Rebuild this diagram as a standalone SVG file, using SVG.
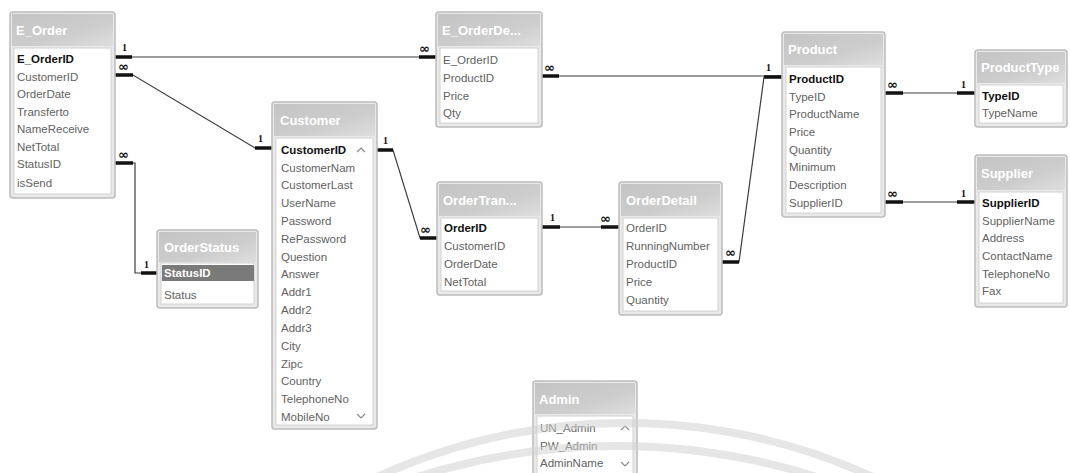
<svg xmlns="http://www.w3.org/2000/svg" width="1070" height="473" viewBox="0 0 1070 473">
<defs>
<linearGradient id="tg" x1="0" y1="0" x2="1" y2="1">
<stop offset="0" stop-color="#c4c4c4"/>
<stop offset="0.6" stop-color="#cdcdcd"/>
<stop offset="1" stop-color="#dedede"/>
</linearGradient>
<style>
.box{fill:#e9e9e9;stroke:#bcbcbc;stroke-width:1.5}
.title{fill:url(#tg)}
.body{fill:#fff;stroke:#d2d2d2;stroke-width:1}
.tt{font-family:"Liberation Sans",Arial,sans-serif;font-size:13px;font-weight:bold;fill:#ffffff}
.f{font-family:"Liberation Sans",Arial,sans-serif;font-size:11.5px;fill:#626262}
.k{font-weight:bold;fill:#111}
.c{fill:none;stroke:#3c3c3c;stroke-width:1.2}
.s{fill:none;stroke:#111;stroke-width:3.5}
.l1{font-family:"Liberation Serif",serif;font-size:10px;font-weight:bold;fill:#111}
.li{font-family:"DejaVu Sans",sans-serif;font-size:13px;font-weight:bold;fill:#111}
.ar{fill:none;stroke:#8a8a8a;stroke-width:1.2}
.wm{fill:none;stroke:#d2d2d2;stroke-width:8;opacity:0.55}
</style>
</defs>
<rect width="1070" height="473" fill="#ffffff"/>

<g id="connectors">
<path class="c" d="M115,57 H436"/>
<path class="s" d="M115,57 H132 M419,57 H436"/>
<text class="l1" x="122" y="51">1</text>
<text class="li" x="419" y="53">∞</text>

<path class="c" d="M115,75 H133 L255,148 H272"/>
<path class="s" d="M115,75 H133 M255,148 H272"/>
<text class="li" x="118" y="71">∞</text>
<text class="l1" x="258" y="142">1</text>

<path class="c" d="M115,163 H135 V273 H158"/>
<path class="s" d="M115,163 H133 M141,273 H158"/>
<text class="li" x="118" y="159">∞</text>
<text class="l1" x="144" y="268">1</text>

<path class="c" d="M377,150 H393 L420,238 H437"/>
<path class="s" d="M377,150 H393 M420,238 H437"/>
<text class="l1" x="383" y="144">1</text>
<text class="li" x="420" y="234">∞</text>

<path class="c" d="M542,227 H619"/>
<path class="s" d="M542,227 H560 M601,227 H619"/>
<text class="l1" x="550" y="221">1</text>
<text class="li" x="600" y="223">∞</text>

<path class="c" d="M542,76 H782"/>
<path class="s" d="M542,76 H559 M764,77 H782"/>
<text class="li" x="544" y="72">∞</text>
<text class="l1" x="766" y="71">1</text>

<path class="c" d="M722,262 H739 L764,77"/>
<path class="s" d="M722,262 H739"/>
<text class="li" x="725" y="257">∞</text>

<path class="c" d="M885,93 H975"/>
<path class="s" d="M885,93 H903 M957,93 H975"/>
<text class="li" x="887" y="89">∞</text>
<text class="l1" x="961" y="88">1</text>

<path class="c" d="M885,202 H975"/>
<path class="s" d="M885,202 H903 M957,202 H975"/>
<text class="li" x="887" y="198">∞</text>
<text class="l1" x="961" y="197">1</text>
</g>

<g id="E_Order">
<rect class="box" x="10" y="12" width="105" height="186" rx="3"/>
<rect class="title" x="12" y="14" width="101" height="32"/>
<rect class="body" x="14" y="48" width="97" height="146"/>
<text class="tt" x="16" y="35">E_Order</text>
<text class="f k" x="17" y="63">E_OrderID</text>
<text class="f" x="17" y="81">CustomerID</text>
<text class="f" x="17" y="98">OrderDate</text>
<text class="f" x="17" y="116">Transferto</text>
<text class="f" x="17" y="133">NameReceive</text>
<text class="f" x="17" y="151">NetTotal</text>
<text class="f" x="17" y="168">StatusID</text>
<text class="f" x="17" y="187">isSend</text>
</g>

<g id="E_OrderDetail">
<rect class="box" x="436" y="12" width="106" height="115" rx="3"/>
<rect class="title" x="438" y="14" width="102" height="32"/>
<rect class="body" x="440" y="48" width="98" height="75"/>
<text class="tt" x="442" y="35">E_OrderDe...</text>
<text class="f" x="443" y="64">E_OrderID</text>
<text class="f" x="443" y="82">ProductID</text>
<text class="f" x="443" y="100">Price</text>
<text class="f" x="443" y="117">Qty</text>
</g>

<g id="Customer">
<rect class="box" x="272" y="102" width="105" height="327" rx="3"/>
<rect class="title" x="274" y="104" width="101" height="32"/>
<rect class="body" x="276" y="138" width="97" height="287"/>
<text class="tt" x="280" y="125">Customer</text>
<text class="f k" x="281" y="154">CustomerID</text>
<text class="f" x="281" y="171.5">CustomerNam</text>
<text class="f" x="281" y="189">CustomerLast</text>
<text class="f" x="281" y="207">UserName</text>
<text class="f" x="281" y="225">Password</text>
<text class="f" x="281" y="243">RePassword</text>
<text class="f" x="281" y="261">Question</text>
<text class="f" x="281" y="278">Answer</text>
<text class="f" x="281" y="296">Addr1</text>
<text class="f" x="281" y="314">Addr2</text>
<text class="f" x="281" y="332">Addr3</text>
<text class="f" x="281" y="350">City</text>
<text class="f" x="281" y="368">Zipc</text>
<text class="f" x="281" y="385">Country</text>
<text class="f" x="281" y="403">TelephoneNo</text>
<text class="f" x="281" y="421">MobileNo</text>
<polyline class="ar" points="357,152 361,148 365,152"/>
<polyline class="ar" points="357,414 361,418 365,414"/>
</g>

<g id="OrderStatus">
<rect class="box" x="157" y="230" width="101" height="78" rx="3"/>
<rect class="title" x="159" y="232" width="97" height="30"/>
<rect class="body" x="161" y="263" width="93" height="41"/>
<rect x="162" y="265" width="92" height="16" fill="#7a7a7a"/>
<text class="tt" x="164" y="252">OrderStatus</text>
<text class="f" x="164" y="277" style="fill:#fff;font-weight:bold">StatusID</text>
<text class="f" x="164" y="299">Status</text>
</g>

<g id="OrderTransaction">
<rect class="box" x="437" y="182" width="105" height="113" rx="3"/>
<rect class="title" x="439" y="184" width="101" height="32"/>
<rect class="body" x="441" y="218" width="97" height="73"/>
<text class="tt" x="443" y="205">OrderTran...</text>
<text class="f k" x="444" y="232">OrderID</text>
<text class="f" x="444" y="250">CustomerID</text>
<text class="f" x="444" y="268">OrderDate</text>
<text class="f" x="444" y="286">NetTotal</text>
</g>

<g id="OrderDetail">
<rect class="box" x="619" y="182" width="103" height="133" rx="3"/>
<rect class="title" x="621" y="184" width="99" height="32"/>
<rect class="body" x="623" y="218" width="95" height="93"/>
<text class="tt" x="626" y="205">OrderDetail</text>
<text class="f" x="626" y="232">OrderID</text>
<text class="f" x="626" y="250">RunningNumber</text>
<text class="f" x="626" y="268">ProductID</text>
<text class="f" x="626" y="286">Price</text>
<text class="f" x="626" y="304">Quantity</text>
</g>

<g id="Product">
<rect class="box" x="782" y="32" width="103" height="185" rx="3"/>
<rect class="title" x="784" y="34" width="99" height="31"/>
<rect class="body" x="786" y="67" width="95" height="146"/>
<text class="tt" x="788" y="54">Product</text>
<text class="f k" x="789" y="83">ProductID</text>
<text class="f" x="789" y="100.5">TypeID</text>
<text class="f" x="789" y="118">ProductName</text>
<text class="f" x="789" y="136">Price</text>
<text class="f" x="789" y="153.5">Quantity</text>
<text class="f" x="789" y="171">Minimum</text>
<text class="f" x="789" y="189">Description</text>
<text class="f" x="789" y="207">SupplierID</text>
</g>

<g id="ProductType">
<rect class="box" x="975" y="50" width="92" height="77" rx="3"/>
<rect class="title" x="977" y="52" width="88" height="31"/>
<rect class="body" x="979" y="85" width="84" height="38"/>
<text class="tt" x="981" y="72">ProductType</text>
<text class="f k" x="982" y="100">TypeID</text>
<text class="f" x="982" y="117">TypeName</text>
</g>

<g id="Supplier">
<rect class="box" x="975" y="155" width="92" height="152" rx="3"/>
<rect class="title" x="977" y="157" width="88" height="33"/>
<rect class="body" x="979" y="192" width="84" height="111"/>
<text class="tt" x="981" y="178">Supplier</text>
<text class="f k" x="982" y="207">SupplierID</text>
<text class="f" x="982" y="224.5">SupplierName</text>
<text class="f" x="982" y="242">Address</text>
<text class="f" x="982" y="260">ContactName</text>
<text class="f" x="982" y="277.5">TelephoneNo</text>
<text class="f" x="982" y="295">Fax</text>
</g>

<g id="Admin">
<rect class="box" x="533" y="381" width="104" height="100" rx="3"/>
<rect class="title" x="535" y="383" width="100" height="31"/>
<rect class="body" x="537" y="416" width="96" height="70"/>
<text class="tt" x="539" y="404">Admin</text>
<text class="f" x="540" y="432">UN_Admin</text>
<text class="f" x="540" y="449.5">PW_Admin</text>
<text class="f" x="540" y="467">AdminName</text>
<polyline class="ar" points="621,430 625,426 629,430"/>
<polyline class="ar" points="621,462 625,466 629,462"/>
</g>

<g id="watermark">
<path class="wm" d="M377,477 A596,596 0 0 1 873,477"/>
<path class="wm" d="M417,477 A661,661 0 0 1 817,477"/>
</g>
</svg>
